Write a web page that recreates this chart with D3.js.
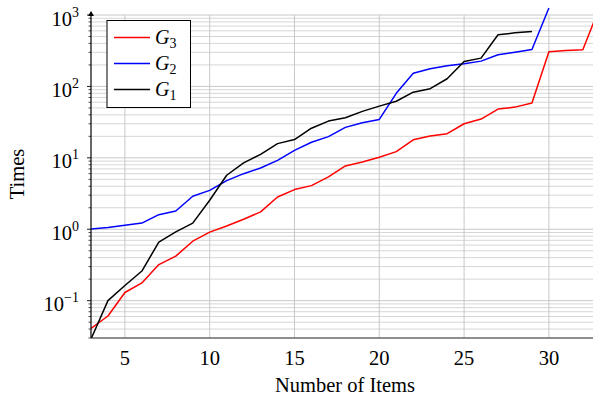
<!DOCTYPE html>
<html><head><meta charset="utf-8">
<script src="https://cdn.jsdelivr.net/npm/d3@7"></script>
<style>body{margin:0;background:#fff}svg{display:block}text{font-family:"Liberation Serif","DejaVu Serif",serif;fill:#000}</style>
</head><body>
<script>
const items = d3.range(3, 34);
const g3 = [0.041,0.061,0.13,0.177,0.32,0.42,0.68,0.91,1.11,1.38,1.75,2.83,3.59,4.08,5.4,7.7,8.75,10.2,12.2,17.9,20.2,21.8,30,34.9,48.2,51.3,58.4,305,318,326,1300];
const g2 = [1.01,1.06,1.14,1.22,1.6,1.8,2.9,3.5,4.8,6.0,7.2,9.2,12.7,16.5,19.8,26.7,31,34.5,80,153,177,195,208,226,277,302,329,1250];
const g1 = [0.029,0.10,0.163,0.26,0.66,0.92,1.22,2.55,5.7,8.5,11.2,15.8,18,26,32.7,36.5,44.7,53,62,83,93,128,224,249,528,563,588];
const xTicks = [5,10,15,20,25,30];
const yDecades = [-1,0,1,2,3];
const seriesNames = ["3","2","1"];
const seriesColors = ["#ff0000","#0000ff","#000000"];
const seriesData = [g3,g2,g1];

const W=593,H=400, L=91, R=593, T=15, B=338;
const svg=d3.select("body").append("svg").attr("width",W).attr("height",H);
const x=d3.scaleLinear().domain([3,32.6]).range([L,R]);
const y=d3.scaleLog().domain([0.03,1000]).range([B,T]);

// grid
const minor=[];
for(let k=-2;k<=2;k++){for(let m=2;m<=9;m++){const v=m*Math.pow(10,k); if(v>=0.03&&v<=1000)minor.push(v);}}
const gridG=svg.append("g");
gridG.selectAll(".ymin").data(minor).join("line")
 .attr("x1",L).attr("x2",R).attr("y1",d=>y(d)).attr("y2",d=>y(d))
 .attr("stroke","#d6d6d6").attr("stroke-width",1);
gridG.selectAll(".ymaj").data(yDecades).join("line")
 .attr("x1",L).attr("x2",R).attr("y1",d=>y(Math.pow(10,d))).attr("y2",d=>y(Math.pow(10,d)))
 .attr("stroke","#c8c8c8").attr("stroke-width",1);
gridG.selectAll(".xg").data(xTicks).join("line")
 .attr("x1",d=>x(d)).attr("x2",d=>x(d)).attr("y1",T).attr("y2",B)
 .attr("stroke","#c8c8c8").attr("stroke-width",1);

// clip
svg.append("clipPath").attr("id","c").append("rect").attr("x",L).attr("y",T-8).attr("width",R-L).attr("height",B-T+8);
const line=d3.line().x((d,i)=>x(items[i])).y(d=>y(d));
const lg=svg.append("g").attr("clip-path","url(#c)");
seriesData.forEach((s,i)=>{
  lg.append("path").attr("d",line(s)).attr("fill","none").attr("stroke",seriesColors[i]).attr("stroke-width",1.5).attr("stroke-linejoin","round");
});

// axes
svg.append("line").attr("x1",L).attr("x2",R).attr("y1",B).attr("y2",B).attr("stroke","#333").attr("stroke-width",1.2);
svg.append("line").attr("x1",L).attr("x2",L).attr("y1",B).attr("y2",T-2).attr("stroke","#000").attr("stroke-width",1.2);
svg.append("path").attr("d",`M${L-3},${T+1} L${L},${T-4} L${L+3},${T+1} Z`).attr("fill","#000");
// y ticks
svg.selectAll(".ymt").data(minor).join("line").attr("x1",L-2.5).attr("x2",L).attr("y1",d=>y(d)).attr("y2",d=>y(d)).attr("stroke","#000").attr("stroke-width",0.7);
svg.selectAll(".yMt").data(yDecades).join("line").attr("x1",L-4).attr("x2",L).attr("y1",d=>y(Math.pow(10,d))).attr("y2",d=>y(Math.pow(10,d))).attr("stroke","#000").attr("stroke-width",0.9);

// y tick labels
yDecades.forEach(k=>{
  const t=svg.append("text").attr("x",79).attr("y",y(Math.pow(10,k))+10.5).attr("text-anchor","end").attr("font-size",20.5);
  t.append("tspan").text("10");
  t.append("tspan").attr("dy",-9).attr("font-size",14).text(k<0?"\u2212"+(-k):String(k));
});
// x tick labels
svg.selectAll(".xl").data(xTicks).join("text").attr("x",d=>x(d)).attr("y",365).attr("text-anchor","middle").attr("font-size",20.5).text(d=>d);
svg.append("text").attr("x",345).attr("y",391.5).attr("text-anchor","middle").attr("font-size",20.5).text("Number of Items");
svg.append("text").attr("transform","translate(24,174) rotate(-90)").attr("text-anchor","middle").attr("font-size",20.5).text("Times");

// legend
svg.append("rect").attr("x",107).attr("y",20.5).attr("width",83.5).attr("height",87).attr("fill","#fff").attr("stroke","#000").attr("stroke-width",1);
seriesNames.forEach((n,i)=>{
  const cy=37.5+i*26;
  svg.append("line").attr("x1",114).attr("x2",150).attr("y1",cy).attr("y2",cy).attr("stroke",seriesColors[i]).attr("stroke-width",1.5);
  const t=svg.append("text").attr("x",155).attr("y",cy+6.5).attr("font-size",20);
  t.append("tspan").attr("font-style","italic").text("G");
  t.append("tspan").attr("dy",4).attr("font-size",14).text(n);
});
</script>
</body></html>
